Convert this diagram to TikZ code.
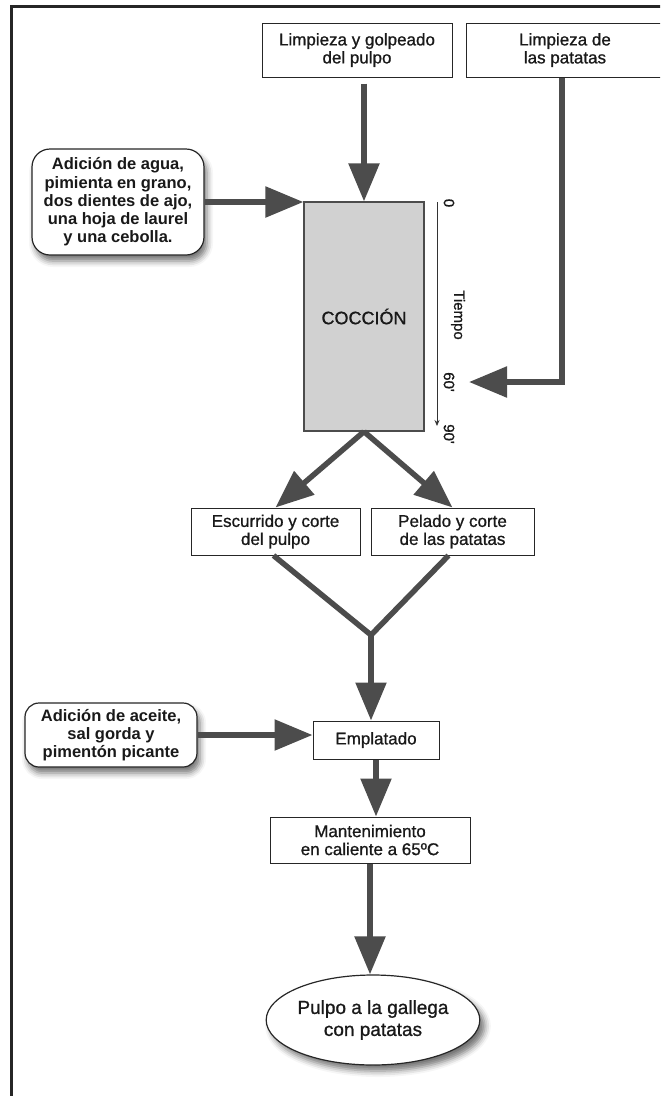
\documentclass[tikz,border=0pt]{standalone}
\usepackage{fontspec}
\setmainfont{Liberation Sans}
\newfontfamily\medfont{Liberation Sans}[FakeBold=0.9]
\usetikzlibrary{arrows.meta,shadows.blur,shapes.geometric,calc}
\begin{document}
\begin{tikzpicture}[x=1pt,y=-1pt,
  stepbox/.style={draw=black!85,line width=1pt,fill=white,align=center,inner sep=0pt,
    font=\medfont\fontsize{17}{18}\selectfont,text=black!90},
  addbox/.style={draw=black!85,line width=1.2pt,fill=white,rounded corners=18pt,align=center,
    inner sep=0pt,font=\fontsize{16.5}{18.3}\selectfont\bfseries,text=black!90,
    blur shadow={shadow xshift=3pt,shadow yshift=-6pt,shadow blur radius=6pt,shadow opacity=55}},
  flow/.style={line width=5.5pt,draw=black!70,-{Triangle[length=38pt,width=30pt]}},
  axislabel/.style={rotate=-90,font=\medfont\fontsize{15}{15}\selectfont,inner sep=0pt,text=black!90},
]
\useasboundingbox (0,0) rectangle (669,1096);
\clip (0,0) rectangle (660,1096);

% outer frame (left and top edges)
\draw[line width=3pt,draw=black!85] (11,1100) -- (11,6) -- (662,6);

% process steps
\node[stepbox,minimum width=190pt,minimum height=54pt] (limp) at (357,50) {Limpieza y golpeado\\del pulpo};
\node[stepbox,minimum width=198pt,minimum height=54pt] (pat) at (565,50) {Limpieza de\\las patatas};
\node[addbox,minimum width=172pt,minimum height=106pt] (agua) at (118,202)
  {Adición de agua,\\pimienta en grano,\\dos dientes de ajo,\\una hoja de laurel\\y una cebolla.};
\node[draw=black!70,line width=1.2pt,fill=black!18,minimum width=120pt,minimum height=229pt,
  inner sep=0pt,font=\medfont\fontsize{18}{18}\selectfont,text=black!90] (coc) at (364,316.5) {COCCIÓN};

% time axis beside the cooking step
\coordinate (t0) at (437,202);
\coordinate (t90) at (437,426);
\draw[line width=0.8pt,black!80,-{Stealth[length=6pt,width=5pt]}] (t0) -- (t90);
\node[axislabel] (l0) at (449,203) {0};
\node[axislabel] (ltime) at (458,315) {Tiempo};
\node[axislabel] (l60) at (449,382) {60'};
\node[axislabel] (l90) at (449,434) {90'};
\coordinate (t60) at (469,382);

\node[stepbox,minimum width=169pt,minimum height=47pt] (escu) at (275.5,531.5) {Escurrido y corte\\del pulpo};
\node[stepbox,minimum width=163pt,minimum height=47pt] (pel) at (452.5,531.5) {Pelado y corte\\de las patatas};
\coordinate (m) at (371,635);
\node[stepbox,minimum width=126pt,minimum height=38pt] (empl) at (376,740) {Emplatado};
\node[addbox,rounded corners=14pt,minimum width=172pt,minimum height=64pt] (aceite) at (111,735)
  {Adición de aceite,\\sal gorda y\\pimentón picante};
\node[stepbox,minimum width=200pt,minimum height=46pt] (mant) at (370,840) {Mantenimiento\\en caliente a 65ºC};
\node[ellipse,draw=black!85,line width=1.2pt,fill=white,minimum width=202pt,minimum height=90pt,
  inner sep=0pt,align=center,font=\medfont\fontsize{19}{22}\selectfont,text=black!90,
  blur shadow={shadow xshift=5pt,shadow yshift=-6pt,shadow blur radius=6pt,shadow opacity=55}] (fin) at (373,1020)
  {Pulpo a la gallega\\con patatas};

% connectors
\draw[flow,shorten <=6pt] (coc.north |- limp.south) -- (coc.north);
\draw[flow] (agua.east) -- (agua.east -| coc.west);
\draw[flow] ([xshift=-3pt]pat.south) |- (t60);
\draw[flow] (coc.south) -- (escu.north);
\draw[flow] (coc.south) -- (pel.north);
\draw[line width=5.5pt,draw=black!70,line join=bevel] ([xshift=-2pt]escu.south) -- (m) -- ([xshift=-4pt]pel.south);
\draw[flow] (m) -- (m |- empl.north);
\draw[flow] (aceite.east) -- (aceite.east -| empl.west);
\draw[flow] (empl.south) -- (empl.south |- mant.north);
\draw[flow] (mant.south) -- (mant.south |- fin.north);
\end{tikzpicture}
\end{document}
